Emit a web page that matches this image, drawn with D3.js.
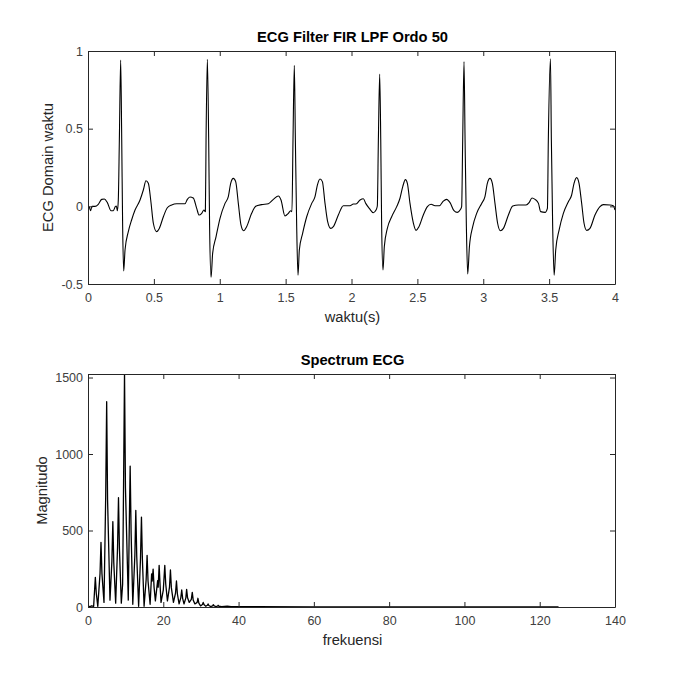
<!DOCTYPE html>
<html>
<head>
<meta charset="utf-8">
<script src="https://cdn.jsdelivr.net/npm/d3@7"></script>
<style>
body { margin: 0; background: #fff; }
text { font-family: "Liberation Sans", Arial, sans-serif; fill: #262626; }
</style>
</head>
<body>
<svg id="fig" width="681" height="682"></svg>
<script>
// ecg after the filter
const ecgTime = [
    0.010,0.020,0.030,0.053,0.078,0.104,0.124,0.147,0.175,0.192,0.207,0.215,0.223,0.230,0.238,0.248,0.256,0.263,0.271,0.281,
    0.306,0.331,0.357,0.395,0.420,0.440,0.458,0.476,0.496,0.521,0.541,0.572,0.602,0.635,0.673,0.736,0.754,0.774,0.799,0.825,
    0.843,0.863,0.880,0.891,0.896,0.906,0.916,0.923,0.934,0.946,0.972,1.002,1.040,1.065,1.083,1.103,1.121,1.141,1.161,1.181,
    1.204,1.242,1.273,1.318,1.369,1.407,1.445,1.465,1.495,1.521,1.538,1.548,1.556,1.566,1.574,1.584,1.594,1.604,1.629,1.660,
    1.698,1.723,1.741,1.761,1.779,1.799,1.819,1.842,1.862,1.900,1.938,1.989,2.014,2.034,2.065,2.090,2.108,2.135,2.166,2.186,
    2.196,2.204,2.214,2.222,2.229,2.239,2.249,2.272,2.305,2.343,2.368,2.389,2.409,2.424,2.444,2.470,2.490,2.512,2.545,2.576,
    2.604,2.634,2.667,2.697,2.722,2.748,2.778,2.803,2.824,2.836,2.844,2.854,2.862,2.872,2.882,2.895,2.920,2.950,2.988,3.013,
    3.031,3.051,3.069,3.089,3.109,3.130,3.153,3.191,3.224,3.266,3.325,3.348,3.370,3.393,3.419,3.436,3.469,3.487,3.494,3.510,
    3.517,3.527,3.538,3.550,3.576,3.608,3.646,3.671,3.689,3.709,3.727,3.747,3.765,3.785,3.810,3.848,3.886,3.912,3.962,3.987,4.000
];
const ecgValue = [
    -0.002,-0.028,0,0,0.013,0.045,0.047,0.024,-0.028,-0.028,-0.002,0.002,-0.028,0.041,0.427,0.942,0.427,-0.131,-0.416,-0.281,
    -0.163,-0.088,-0.024,0.041,0.105,0.165,0.148,0.041,-0.109,-0.163,-0.142,-0.067,-0.009,0.009,0.017,0.017,0.045,0.060,0.054,-0.013,
    -0.056,-0.045,-0.024,-0.034,0.427,0.947,0.427,-0.131,-0.457,-0.303,-0.195,-0.077,0.019,0.062,0.148,0.180,0.159,0.019,-0.120,-0.157,
    -0.131,-0.045,0,0.011,0.017,0.045,0.067,0.041,-0.062,-0.045,-0.028,-0.034,0.427,0.908,0.427,-0.131,-0.444,-0.281,-0.174,-0.067,
    0.019,0.062,0.137,0.176,0.159,0.019,-0.099,-0.142,-0.131,-0.056,0.004,0.004,0.015,0.015,0.041,0.049,0.019,-0.013,-0.041,-0.024,
    0.002,0.427,0.852,0.427,-0.131,-0.410,-0.260,-0.142,-0.067,-0.002,0.052,0.127,0.172,0.148,0.019,-0.109,-0.155,-0.131,-0.056,-0.002,
    0.013,0.004,0.004,0.034,0.045,0.024,-0.028,-0.039,-0.024,-0.002,0.427,0.932,0.427,-0.131,-0.436,-0.260,-0.131,-0.045,0.019,0.062,
    0.148,0.180,0.148,0.019,-0.109,-0.157,-0.142,-0.056,0.002,0.009,0.009,0.024,0.054,0.045,0.019,-0.034,-0.039,-0.013,0.427,0.949,
    0.427,-0.131,-0.444,-0.281,-0.152,-0.045,0.030,0.073,0.148,0.185,0.148,0.019,-0.109,-0.155,-0.142,-0.056,-0.002,0.011,0.009,0.004,-0.024
];

// magnitude spectrum, one row per harmonic
const specFreq = [
    0,0.5,1,1.5,1.7,1.95,2.2,2.6,
    3.2,3.45,3.7,4.25,
    4.7,4.96,5.2,5.84,
    6.35,6.6,6.85,7.35,
    7.85,8.1,8.35,8.85,
    9.2,9.45,9.7,9.95,10.7,
    10.95,11.2,11.45,11.9,
    12.45,12.7,12.95,13.45,
    13.95,14.2,14.45,14.9,
    15.45,15.7,15.95,16.5,
    16.9,17.05,17.3,17.55,17.9,
    18.5,18.65,18.9,19.15,19.4,
    20,20.15,20.4,20.65,21.1,
    21.65,21.9,22.15,22.7,
    23.25,23.5,23.75,24.2,
    24.65,24.9,25.15,25.5,
    26,26.2,26.45,26.9,
    27.45,27.7,27.95,28.4,
    29,29.2,29.45,29.9,
    30.4,30.6,30.85,31.3,
    31.7,31.9,32.1,32.6,
    33.1,33.3,33.5,34,
    34.4,34.6,34.8,35.5,
    37,38,40,45,60,80,100,125
];
const specMag = [
    6,3,8,4,90,194,90,4,
    220,423,220,30,
    720,1342,700,45,
    300,558,290,25,
    390,714,380,25,
    150,800,1530,780,45,
    500,921,490,18,
    340,632,330,5,
    320,588,310,5,
    180,338,170,18,
    216,170,248,130,40,
    172,130,272,140,30,
    111,170,272,150,40,
    130,242,125,30,
    90,170,85,20,
    60,111,55,20,
    60,115,60,30,
    50,96,45,20,
    30,57,25,7,
    16,30,14,5,
    11,20,10,3,
    8,15,7,3,
    6,11,5,2,
    5,2,3,2,1,1,1,1
];

const ecgXTicks = [0, 0.5, 1, 1.5, 2, 2.5, 3, 3.5, 4];
const ecgYTicks = [-0.5, 0, 0.5, 1];
const specXTicks = [0, 20, 40, 60, 80, 100, 120, 140];
const specYTicks = [0, 500, 1000, 1500];

const svg = d3.select("#fig");
const left = 88, right = 615, plotH = 233;
const font = '"Liberation Sans", Arial, sans-serif';

function panel(opt) {
    const g = svg.append("g").attr("transform", `translate(0, ${opt.top})`);
    const x = d3.scaleLinear().domain(opt.xDomain).range([left, right]);
    const y = d3.scaleLinear().domain(opt.yDomain).range([plotH, 0]);

    g.append("clipPath").attr("id", opt.id)
        .append("rect").attr("x", left).attr("y", 0).attr("width", right - left).attr("height", plotH);

    const line = d3.line().x(d => x(d[0])).y(d => y(d[1])).curve(opt.curve);
    g.append("path")
        .attr("d", line(d3.zip(opt.xs, opt.ys)))
        .attr("clip-path", `url(#${opt.id})`)
        .style("fill", "none")
        .style("stroke", "#000")
        .style("stroke-width", opt.lineWidth)
        .style("stroke-linejoin", "round");

    // box with inward ticks on all four sides
    const fmt = d => String(d);
    const axes = [
        [d3.axisBottom(x).tickValues(opt.xTicks).tickFormat(fmt).tickPadding(9), 0, plotH],
        [d3.axisTop(x).tickValues(opt.xTicks).tickFormat(""), 0, 0],
        [d3.axisLeft(y).tickValues(opt.yTicks).tickFormat(fmt).tickPadding(5), left, 0],
        [d3.axisRight(y).tickValues(opt.yTicks).tickFormat(""), right, 0]
    ];
    axes.forEach(([axis, tx, ty]) => {
        const a = g.append("g")
            .attr("transform", `translate(${tx}, ${ty})`)
            .call(axis.tickSizeInner(-5).tickSizeOuter(0));
        a.selectAll("path, line").style("stroke", "#262626").style("stroke-width", 1);
        a.selectAll("text").style("font-size", "12.5px").style("font-family", font).style("fill", "#404040");
    });

    g.append("text")
        .attr("x", (left + right) / 2 + 1).attr("y", -9)
        .attr("text-anchor", "middle")
        .style("font-size", "14.7px").style("font-weight", "bold")
        .style("fill", "#000")
        .text(opt.title);
    g.append("text")
        .attr("x", (left + right) / 2 + 1).attr("y", plotH + 38)
        .attr("text-anchor", "middle")
        .style("font-size", "14.7px")
        .text(opt.xLabel);
    g.append("text")
        .attr("transform", `translate(${opt.yLabelX}, ${plotH / 2}) rotate(-90)`)
        .attr("text-anchor", "middle")
        .style("font-size", "14.7px")
        .text(opt.yLabel);
}

panel({
    id: "clip-ecg", top: 51, title: "ECG Filter FIR LPF Ordo 50",
    xLabel: "waktu(s)", yLabel: "ECG Domain waktu", yLabelX: 53,
    xDomain: [0, 4], yDomain: [-0.5, 1], xTicks: ecgXTicks, yTicks: ecgYTicks,
    xs: ecgTime, ys: ecgValue, lineWidth: 1.1, curve: d3.curveMonotoneX
});
panel({
    id: "clip-spec", top: 374, title: "Spectrum ECG",
    xLabel: "frekuensi", yLabel: "Magnitudo", yLabelX: 47,
    xDomain: [0, 140], yDomain: [0, 1523], xTicks: specXTicks, yTicks: specYTicks,
    xs: specFreq, ys: specMag, lineWidth: 1.3, curve: d3.curveLinear
});
</script>
</body>
</html>
